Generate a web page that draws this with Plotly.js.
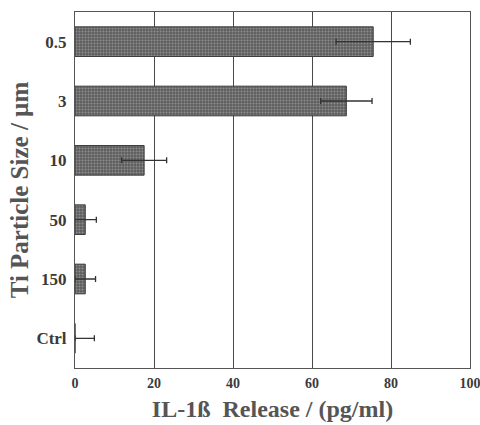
<!DOCTYPE html>
<html>
<head>
<meta charset="utf-8">
<script src="https://cdn.plot.ly/plotly-3.0.1.min.js"></script>
<style>html,body{margin:0;padding:0;background:#fff;}#chart{width:480px;height:425px;}</style>
</head>
<body>
<div id="chart"></div>
<script>
const categories = ["0.5", "3", "10", "50", "150", "Ctrl"];
const release = [75.5, 68.7, 17.5, 2.6, 2.6, 0];
const errPlus = [9.4, 6.5, 5.7, 2.8, 2.6, 4.9];
const errMinus = [9.4, 6.5, 5.7, 2.8, 2.6, 0];
const xTicks = [0, 20, 40, 60, 80, 100];

const trace = {
  type: "bar",
  orientation: "h",
  y: categories,
  x: release,
  width: 0.5,
  marker: {
    color: "#6b6b6b",
    line: {color: "#3e3e3e", width: 1},
    pattern: {shape: ".", fgcolor: "#8e8e8e", bgcolor: "#5e5e5e", size: 3, solidity: 0.35}
  },
  error_x: {
    type: "data", symmetric: false,
    array: errPlus, arrayminus: errMinus,
    color: "#333", thickness: 1.3, width: 3
  },
  hoverinfo: "none"
};

const layout = {
  width: 480, height: 425,
  margin: {l: 75, r: 10, t: 12, b: 57},
  paper_bgcolor: "#fff", plot_bgcolor: "#fff",
  showlegend: false,
  font: {family: "Liberation Serif, Times New Roman, serif", color: "#3a3a3a"},
  xaxis: {
    range: [0, 100],
    tickvals: xTicks,
    ticktext: xTicks.map(String),
    ticklabeloverflow: "allow",
    ticklabelstandoff: 2,
    showgrid: true, gridcolor: "#4a4a4a", gridwidth: 1,
    zeroline: false,
    showline: true, linecolor: "#555", linewidth: 1, mirror: true,
    ticks: "", ticklen: 0,
    tickfont: {size: 14, family: "Liberation Serif", weight: "bold", color: "#3a3a3a"},
    title: {text: "IL-1ß  Release / (pg/ml)", font: {size: 24, family: "Liberation Serif", weight: "bold", color: "#555"}, standoff: 10}
  },
  yaxis: {
    type: "category",
    categoryorder: "array", categoryarray: categories.slice().reverse(),
    range: [-0.5, 5.5],
    ticklabelstandoff: 4,
    showgrid: false, zeroline: false,
    showline: true, linecolor: "#555", linewidth: 1, mirror: true,
    ticks: "", ticklen: 0,
    tickfont: {size: 17, family: "Liberation Serif", weight: "bold", color: "#3a3a3a"},
    title: {text: "Ti Particle Size / µm", font: {size: 25, family: "Liberation Serif", weight: "bold", color: "#555"}, standoff: 0}
  },
  bargap: 0.5
};

Plotly.newPlot("chart", [trace], layout, {displayModeBar: false, staticPlot: true});
</script>
</body>
</html>
